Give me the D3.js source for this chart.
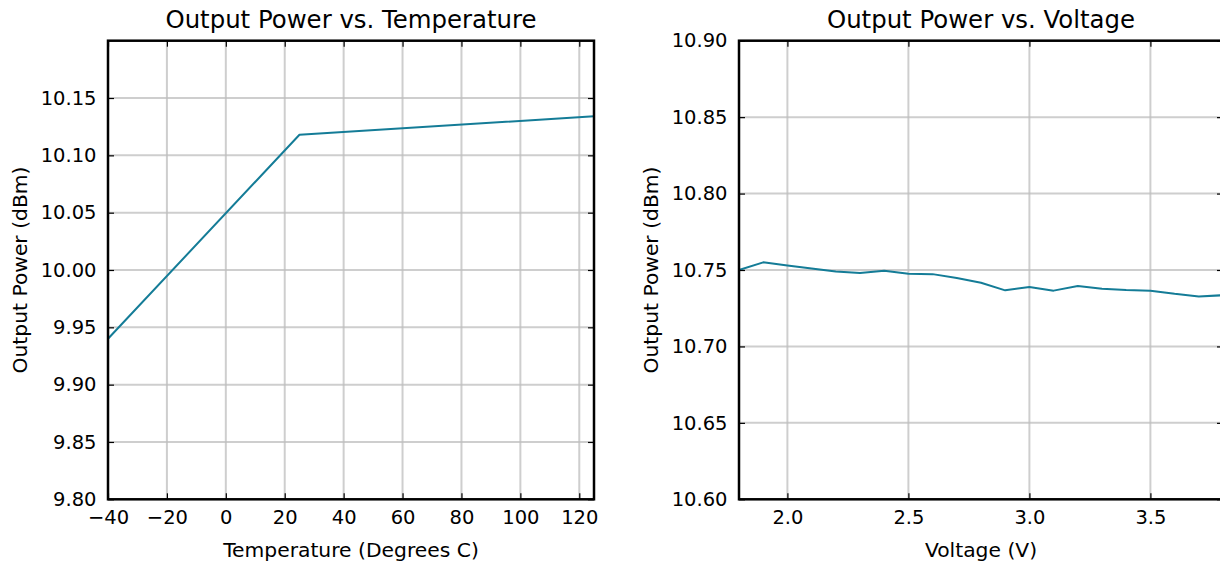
<!DOCTYPE html>
<html lang="en">
	<head>
		<meta charset="UTF-8" />
		<title>Output Power</title>
		<script src="https://d3js.org/d3.v7.min.js"></script>
		<style>
			body { margin: 0; background: #fff; }
			svg text { font-family: "DejaVu Sans", sans-serif; fill: #000; }
		</style>
	</head>
	<body></body>

	<script>
		// Output power vs. temperature
		var tempX = [-40, 25, 125];
		var tempPower = [9.94, 10.118, 10.134];
		var tempTicksX = [-40, -20, 0, 20, 40, 60, 80, 100, 120];
		var tempTicksY = [9.80, 9.85, 9.90, 9.95, 10.00, 10.05, 10.10, 10.15];

		// Output power vs. voltage
		var voltX = [1.8, 1.9, 2.0, 2.1, 2.2, 2.3, 2.4, 2.5, 2.6, 2.7, 2.8, 2.9,
			3.0, 3.1, 3.2, 3.3, 3.4, 3.5, 3.6, 3.7, 3.8];
		var voltPower = [10.750, 10.755, 10.753, 10.751, 10.749, 10.748, 10.7495, 10.7476, 10.7473, 10.7447, 10.7417, 10.7367,
			10.7389, 10.7365, 10.7395, 10.7378, 10.7369, 10.7365, 10.7344, 10.7327, 10.7335];
		var voltTicksX = [2.0, 2.5, 3.0, 3.5];
		var voltTicksY = [10.60, 10.65, 10.70, 10.75, 10.80, 10.85, 10.90];

		var lineColor = "#147c97";
		var plotTop = 40.7, plotBottom = 499.3;
		var tickFont = 19.5, labelFont = 20.3, titleFont = 24.4;

		var svg = d3.select("body")
			.append("svg")
			.attr("width", 1220)
			.attr("height", 565);

		function fmtTick(d) {
			return d.toFixed(0).replace("-", "\u2212");
		}

		function drawPanel(opt) {
			var x = d3.scaleLinear().domain(opt.xDomain).range([opt.left, opt.right]);
			var y = d3.scaleLinear().domain(opt.yDomain).range([plotBottom, plotTop]);
			var g = svg.append("g");

			// grid
			g.selectAll(".gx")
				.data(opt.xTicks)
				.enter()
				.append("line")
				.attr("x1", d => x(d)).attr("x2", d => x(d))
				.attr("y1", plotTop).attr("y2", plotBottom)
				.attr("stroke", "#bdbdbd")
				.attr("stroke-opacity", 0.75)
				.attr("stroke-width", 2);
			g.selectAll(".gy")
				.data(opt.yTicks)
				.enter()
				.append("line")
				.attr("x1", opt.left).attr("x2", opt.right)
				.attr("y1", d => y(d)).attr("y2", d => y(d))
				.attr("stroke", "#bdbdbd")
				.attr("stroke-opacity", 0.75)
				.attr("stroke-width", 2);

			// data line
			var pts = opt.xs.map((v, i) => [v, opt.ys[i]]);
			g.append("path")
				.datum(pts)
				.attr("fill", "none")
				.attr("stroke", lineColor)
				.attr("stroke-width", 2)
				.attr("stroke-linejoin", "round")
				.attr("d", d3.line().x(d => x(d[0])).y(d => y(d[1])));

			// axes, ticks pointing inward
			g.append("g")
				.attr("transform", "translate(0," + plotBottom + ")")
				.call(d3.axisBottom(x).tickValues(opt.xTicks).tickFormat(opt.xFormat)
					.tickSize(-6).tickPadding(11));
			g.append("g")
				.attr("transform", "translate(0," + plotTop + ")")
				.call(d3.axisTop(x).tickValues(opt.xTicks).tickFormat("")
					.tickSize(-6));
			g.append("g")
				.attr("transform", "translate(" + opt.left + ",0)")
				.call(d3.axisLeft(y).tickValues(opt.yTicks).tickFormat(d3.format(".2f"))
					.tickSize(-6).tickPadding(11.5));
			g.append("g")
				.attr("transform", "translate(" + opt.right + ",0)")
				.call(d3.axisRight(y).tickValues(opt.yTicks).tickFormat("")
					.tickSize(-6));

			g.selectAll(".domain").remove();
			g.selectAll(".tick line").attr("stroke", "#000").attr("stroke-width", 1.2);
			g.selectAll(".tick text")
				.attr("font-size", tickFont)
				.attr("font-family", "DejaVu Sans")
				.attr("fill", "#000");

			// frame
			g.append("rect")
				.attr("x", opt.left).attr("y", plotTop)
				.attr("width", opt.right - opt.left)
				.attr("height", plotBottom - plotTop)
				.attr("fill", "none")
				.attr("stroke", "#000")
				.attr("stroke-width", 2.5);

			// titles
			var cx = (opt.left + opt.right) / 2;
			g.append("text")
				.attr("x", cx).attr("y", 28.3)
				.attr("text-anchor", "middle")
				.attr("font-size", titleFont)
				.text(opt.title);
			g.append("text")
				.attr("x", cx).attr("y", 556.7)
				.attr("text-anchor", "middle")
				.attr("font-size", labelFont)
				.text(opt.xLabel);
			g.append("text")
				.attr("transform", "translate(" + (opt.left - 81.5) + "," + (plotTop + plotBottom) / 2 + ") rotate(-90)")
				.attr("text-anchor", "middle")
				.attr("font-size", labelFont)
				.text(opt.yLabel);
		}

		drawPanel({
			left: 108, right: 594,
			xDomain: [-40, 125], yDomain: [9.80, 10.20],
			xs: tempX, ys: tempPower,
			xTicks: tempTicksX, yTicks: tempTicksY,
			xFormat: fmtTick,
			title: "Output Power vs. Temperature",
			xLabel: "Temperature (Degrees C)",
			yLabel: "Output Power (dBm)"
		});

		drawPanel({
			left: 739, right: 1223,
			xDomain: [1.8, 3.8], yDomain: [10.60, 10.90],
			xs: voltX, ys: voltPower,
			xTicks: voltTicksX, yTicks: voltTicksY,
			xFormat: d3.format(".1f"),
			title: "Output Power vs. Voltage",
			xLabel: "Voltage (V)",
			yLabel: "Output Power (dBm)"
		});
	</script>
</html>
